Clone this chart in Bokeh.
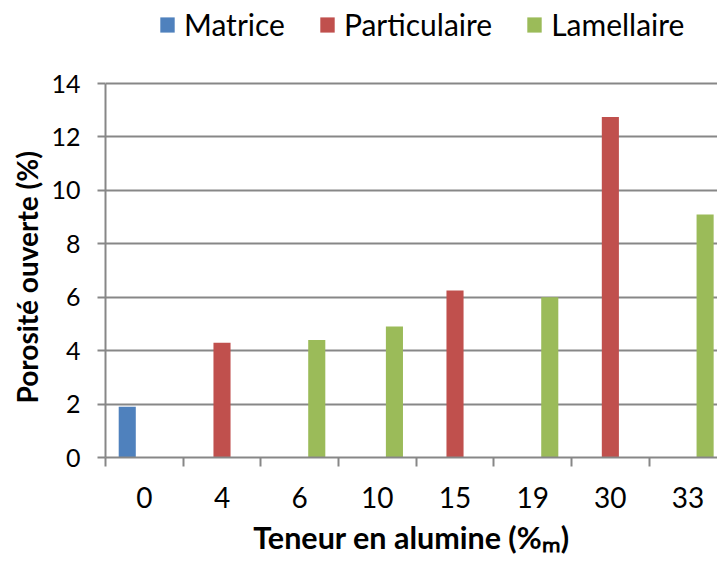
import math
from bokeh.plotting import figure
from bokeh.models import (Range1d, FixedTicker, LinearAxis, Legend, LegendItem,
                          ColumnDataSource, Title)
from bokeh.embed import file_html
from bokeh.resources import INLINE

# ---- data ----
categories = ["0", "4", "6", "10", "15", "19", "30", "33"]
matrice = [1.9, None, None, None, None, None, None, None]
particulaire = [None, 4.3, None, None, 6.25, None, 12.75, None]
lamellaire = [None, None, 4.4, 4.9, None, 6.0, None, 9.1]
series_names = ["Matrice", "Particulaire", "Lamellaire"]
y_ticks = [0, 2, 4, 6, 8, 10, 12, 14]
y_title = "Porosité ouverte (%)"
x_title = "Teneur en alumine (%ₘ)"

# ---- style ----
FONT = "Lato"
colors = ["#4F81BD", "#C0504D", "#9BBB59"]
GRAY = "#878787"
CAT_PX = 77.67          # pixels per category
Y_PX = 26.714           # pixels per y unit
FRAME_W = 612
PLOT_H = 374            # height of the 0..14 area
TOP_EXTRA = 83          # room above 14 for the legend
FRAME_H = PLOT_H + TOP_EXTRA
BAR_W = 0.22
Y_MAX = 14

n = len(categories)
p = figure(frame_width=FRAME_W, frame_height=FRAME_H,
           x_range=Range1d(0, FRAME_W / CAT_PX),
           y_range=Range1d(0, Y_MAX + TOP_EXTRA / Y_PX),
           output_backend="svg", toolbar_location=None,
           x_axis_location=None,
           min_border_left=105, min_border_top=0, min_border_right=0,
           min_border_bottom=0)
p.outline_line_color = None
p.background_fill_color = "white"
p.border_fill_color = "white"

# y axis
yax = p.yaxis[0]
yax.bounds = (0, Y_MAX)
yax.ticker = FixedTicker(ticks=y_ticks, minor_ticks=[])
yax.major_tick_out = 8
yax.major_tick_in = 0
yax.major_tick_line_color = GRAY
yax.major_tick_line_width = 2
yax.minor_tick_line_color = None
yax.axis_line_color = GRAY
yax.axis_line_width = 2
yax.major_label_text_font = FONT
yax.major_label_text_font_size = "25px"
yax.major_label_text_color = "black"
yax.major_label_standoff = 17

# y title, centred on the 0..14 part of the frame
ytitle = Title(text=y_title, align="left", offset=54,
               text_font=FONT, text_font_style="bold", text_font_size="28px",
               text_color="black", standoff=9)
p.add_layout(ytitle, "left")

p.ygrid[0].ticker = FixedTicker(ticks=y_ticks, minor_ticks=[])
p.ygrid[0].grid_line_color = GRAY
p.ygrid[0].grid_line_width = 2
for g in p.xgrid:
    g.visible = False

# x axis: labels at category centres, tick marks at category boundaries
centres = [i + 0.5 for i in range(n)]
bounds = list(range(n + 1))
xax = LinearAxis(ticker=FixedTicker(ticks=centres, minor_ticks=bounds),
                 major_label_overrides={c: lab for c, lab in zip(centres, categories)},
                 major_tick_line_color=None, major_tick_out=9, major_tick_in=0,
                 minor_tick_out=9, minor_tick_in=0,
                 minor_tick_line_color=GRAY, minor_tick_line_width=2,
                 axis_line_color=GRAY, axis_line_width=2,
                 major_label_text_font=FONT, major_label_text_font_size="28px",
                 major_label_text_color="black",
                 major_label_standoff=20,
                 axis_label=x_title,
                 axis_label_text_font=FONT, axis_label_text_font_style="bold",
                 axis_label_text_font_size="30.5px", axis_label_text_color="black",
                 axis_label_standoff=8)
p.add_layout(xax, "below")

# bars
items = []
for j, (name, vals) in enumerate(zip(series_names, [matrice, particulaire, lamellaire])):
    xs = [i + 0.5 + (j - 1) * BAR_W for i in range(n)]
    tops = [float("nan") if v is None else v for v in vals]
    src = ColumnDataSource(dict(x=xs, top=tops))
    r = p.vbar(x="x", top="top", bottom=0, width=BAR_W, source=src,
               fill_color=colors[j], line_color=None)
    items.append(LegendItem(label=name, renderers=[r]))

legend = Legend(items=items, orientation="horizontal", location=(53, 415),
                glyph_width=18, glyph_height=19, label_standoff=8, spacing=33,
                padding=0, margin=0, border_line_color=None,
                background_fill_alpha=0,
                label_text_font=FONT, label_text_font_size="30px",
                label_text_color="black")
p.add_layout(legend)

open("out.html", "w").write(file_html(p, INLINE))
